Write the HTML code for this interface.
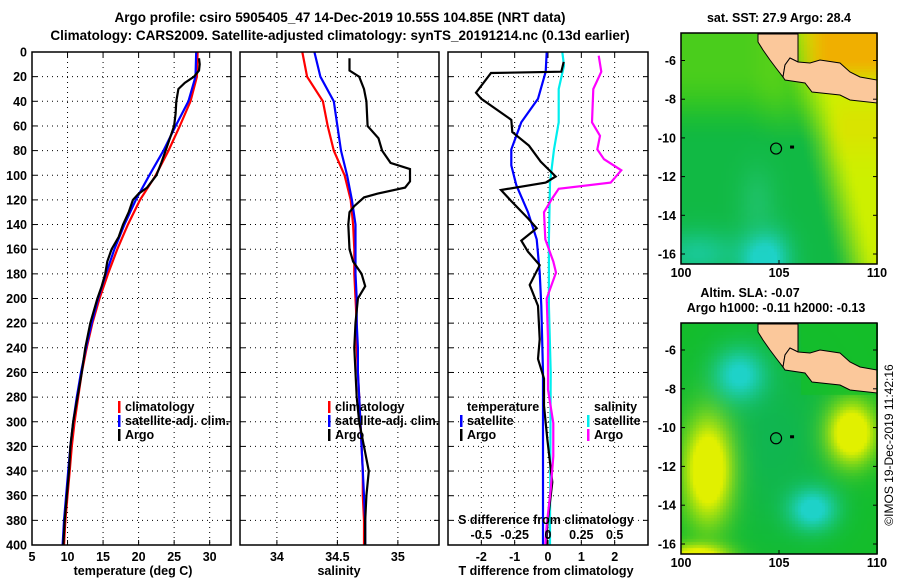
<!DOCTYPE html>
<html><head><meta charset="utf-8">
<style>
body{margin:0;background:#fff;}
#wrap{position:relative;width:900px;height:580px;overflow:hidden;font-family:"Liberation Sans",sans-serif;font-weight:bold;}
svg text{font-family:"Liberation Sans",sans-serif;font-weight:bold;font-size:12.5px;fill:#000;}
canvas{position:absolute;}
</style></head><body>
<div id="wrap">
<canvas id="map1" width="197" height="231" style="left:681px;top:33px;"></canvas>
<canvas id="map2" width="197" height="231" style="left:681px;top:323px;"></canvas>
<svg id="svg" width="900" height="580" style="position:absolute;left:0;top:0"></svg>
</div>
<script>
// ---- data ----
const tArgoDepth=[5,10,15,20,25,30,40,50,60,70,80,90,100,110,115,120,130,140,150,160,170,180,190,200,220,240,260,280,300,320,340,360,380,400];
const tArgo=[28.5,28.6,28.5,27.8,26.5,25.6,25.3,25.2,25.0,24.4,23.8,23.2,22.5,21.2,20.0,19.2,18.6,17.8,17.2,16.2,15.6,15.3,14.8,14.2,13.2,12.5,12.0,11.4,10.8,10.4,10.2,9.9,9.6,9.4];
const climDepth=[0,20,40,60,80,100,120,140,160,180,200,220,240,260,280,300,320,340,360,380,400];
const tClim=[28.3,28.2,27.3,25.8,24.2,22.4,20.2,18.5,17.0,15.7,14.5,13.5,12.7,12.0,11.5,11.0,10.6,10.3,10.0,9.7,9.5];
const tSat=[28.1,28.0,27.0,25.2,23.5,21.5,19.6,18.0,16.6,15.4,14.3,13.4,12.6,11.9,11.3,10.8,10.4,10.1,9.8,9.5,9.3];
const sArgoDepth=[5,15,20,30,40,60,70,80,90,95,105,110,115,118,125,130,140,160,170,180,190,200,220,240,260,280,300,320,340,360,380,400];
const sArgo=[34.6,34.6,34.68,34.72,34.74,34.75,34.84,34.87,34.94,35.1,35.1,35.06,34.83,34.72,34.64,34.6,34.59,34.6,34.63,34.7,34.73,34.67,34.65,34.64,34.65,34.66,34.68,34.72,34.76,34.74,34.73,34.73];
const sClim=[34.21,34.25,34.38,34.42,34.47,34.56,34.61,34.63,34.64,34.64,34.65,34.66,34.66,34.67,34.68,34.69,34.70,34.71,34.71,34.72,34.72];
const sSat=[34.31,34.36,34.47,34.50,34.53,34.58,34.62,34.65,34.65,34.65,34.66,34.66,34.67,34.67,34.68,34.69,34.70,34.71,34.72,34.73,34.73];
const dTDepth=[8,16,17,33,38,55,65,76,89,101,106,112,121,135,143,153,162,173,189,206,233,249,265,287,314,349,384,400];
const dTArgo=[0.47,0.4,-1.71,-2.16,-2.0,-1.1,-1.07,-0.57,-0.22,0.23,-0.07,-1.41,-1.1,-0.6,-0.34,-0.8,-0.6,-0.25,-0.55,-0.3,-0.25,-0.3,-0.12,-0.12,-0.02,0.13,-0.02,-0.05];
const dTSatDepth=[0,16,38,57,79,92,108,130,152,179,206,260,384,400];
const dTSat=[-0.04,-0.07,-0.3,-0.8,-1.1,-1.1,-0.95,-0.6,-0.34,-0.25,-0.2,-0.15,-0.15,-0.15];
const dSSatDepth=[0,11,30,57,79,106,152,206,260,384,400];
const dSSat=[0.107,0.12,0.08,0.08,0.045,0.015,0.007,0.007,0.02,0.015,0.015];
const dSArgoDepth=[3,16,30,57,68,79,87,96,106,111,119,130,152,170,179,200,233,274,301,328,355,384,400];
const dSArgo=[0.38,0.40,0.34,0.33,0.39,0.37,0.42,0.55,0.47,0.08,0.03,-0.03,-0.02,0.04,0.06,-0.01,0.0,0.0,0.04,0.04,0.02,-0.01,-0.02];
const depthTicks=[0,20,40,60,80,100,120,140,160,180,200,220,240,260,280,300,320,340,360,380,400];
const tTicks=[5,10,15,20,25,30];
const sTicks=[34,34.5,35];
const dTTicks=[-2,-1,0,1,2];
const dSTicks=[-0.5,-0.25,0,0.25,0.5];
const lonTicks=[100,105,110];
const latTicks=[-6,-8,-10,-12,-14,-16];

const NS='http://www.w3.org/2000/svg';
const svg=document.getElementById('svg');
function el(tag,attrs,parent){const e=document.createElementNS(NS,tag);for(const k in attrs)e.setAttribute(k,attrs[k]);(parent||svg).appendChild(e);return e;}
function txt(s,x,y,anchor,parent,size){const t=el('text',{x:x,y:y,'text-anchor':anchor||'middle'},parent);if(size)t.style.fontSize=size+'px';t.textContent=s;return t;}
const Y0=52,Y1=545;
const yD=d=>Y0+(Y1-Y0)*d/400;

function panel(name,x0,x1,dmin,dmax){
  const g=el('g',{});
  
  
  const xs=v=>x0+(x1-x0)*(v-dmin)/(dmax-dmin);
  return {g,xs,x0,x1};
}
function grid(p,ticks,xs){
  ticks.forEach(v=>{const x=xs(v);if(x>p.x0+1&&x<p.x1-1)el('line',{x1:x,x2:x,y1:Y0,y2:Y1,stroke:'#000','stroke-width':1,'stroke-dasharray':'1,4'},p.g);});
  depthTicks.forEach(d=>{const y=yD(d);if(d>0&&d<400)el('line',{x1:p.x0,x2:p.x1,y1:y,y2:y,stroke:'#000','stroke-width':1,'stroke-dasharray':'1,4'},p.g);
    el('line',{x1:p.x0,x2:p.x0+5,y1:y,y2:y,stroke:'#000'},p.g);el('line',{x1:p.x1-5,x2:p.x1,y1:y,y2:y,stroke:'#000'},p.g);});
  ticks.forEach(v=>{const x=xs(v);el('line',{x1:x,x2:x,y1:Y1-5,y2:Y1,stroke:'#000'},p.g);el('line',{x1:x,x2:x,y1:Y0,y2:Y0+5,stroke:'#000'},p.g);});
}
function frame(p){el('rect',{x:p.x0,y:Y0,width:p.x1-p.x0,height:Y1-Y0,fill:'none',stroke:'#000','stroke-width':1.5},p.g);}
function line(p,name,depths,vals,xs,color){
  const pts=depths.map((d,i)=>xs(vals[i]).toFixed(1)+','+yD(d).toFixed(1)).join(' ');
  const l=el('polyline',{points:pts,fill:'none',stroke:color,'stroke-width':2.2},p.g);
  
  
}
function legend(p,x,y,items){
  items.forEach((it,i)=>{const yy=y+i*14;
    el('rect',{x:x,y:yy-10,width:2.5,height:12,fill:it[1]},p.g);
    const t=txt(it[0],x+7,yy,'start',p.g);
    
    });
}

// titles
txt('Argo profile: csiro 5905405_47 14-Dec-2019 10.55S 104.85E (NRT data)',340,22,'middle',null,13.5);
txt('Climatology: CARS2009. Satellite-adjusted climatology: synTS_20191214.nc (0.13d earlier)',340,40,'middle',null,13.5);

// depth labels
depthTicks.forEach(d=>txt(String(d),27,yD(d)+4.5,'end'));

// panel 1
const p1=panel('temperature-panel',32,231,5,33);
grid(p1,tTicks,p1.xs);
line(p1,'temp-climatology',climDepth,tClim,p1.xs,'#f00');
line(p1,'temp-satellite',climDepth,tSat,p1.xs,'#00f');
line(p1,'temp-argo',tArgoDepth,tArgo,p1.xs,'#000');
frame(p1);
tTicks.forEach(v=>txt(String(v),p1.xs(v),561));
txt('temperature (deg C)',133,575);
legend(p1,118,411,[['climatology','#f00'],['satellite-adj. clim.','#00f'],['Argo','#000']]);

// panel 2
const p2=panel('salinity-panel',240,439,33.695,35.34);
grid(p2,sTicks,p2.xs);
line(p2,'sal-climatology',climDepth,sClim,p2.xs,'#f00');
line(p2,'sal-satellite',climDepth,sSat,p2.xs,'#00f');
line(p2,'sal-argo',sArgoDepth,sArgo,p2.xs,'#000');
frame(p2);
sTicks.forEach(v=>txt(String(v),p2.xs(v),561));
txt('salinity',339,575);
legend(p2,328,411,[['climatology','#f00'],['satellite-adj. clim.','#00f'],['Argo','#000']]);

// panel 3
const p3=panel('difference-panel',448,648,-3,3);
const xsS=v=>p3.xs(v*4);
grid(p3,dTTicks,p3.xs);
line(p3,'dT-satellite',dTSatDepth,dTSat,p3.xs,'#00f');
line(p3,'dS-satellite',dSSatDepth,dSSat,xsS,'#0ee');
line(p3,'dT-argo',dTDepth,dTArgo,p3.xs,'#000');
line(p3,'dS-argo',dSArgoDepth,dSArgo,xsS,'#f0f');
frame(p3);
dTTicks.forEach(v=>txt(String(v),p3.xs(v),561));
dSTicks.forEach(v=>txt(String(v),xsS(v),539));
txt('S difference from climatology',546,524);
txt('T difference from climatology',546,575);
txt('temperature',467,411,'start',p3.g);
legend(p3,460,425,[['satellite','#00f'],['Argo','#000']]);
txt('salinity',594,411,'start',p3.g);
legend(p3,587,425,[['satellite','#0ee'],['Argo','#f0f']]);

// maps
const MX0=681,MX1=877;
function mapAxes(name,top,bottom,lat6,lat16,title1,title2){
  const g=el('g',{});
  
  
  el('rect',{x:MX0,y:top,width:MX1-MX0,height:bottom-top,fill:'none',stroke:'#000','stroke-width':1.5},g);
  const ly=lat=>lat6+(lat16-lat6)*(lat+6)/(-10);
  latTicks.forEach(l=>{const y=ly(l);txt(String(l),676,y+4.5,'end',g);
    el('line',{x1:MX0,x2:MX0+4,y1:y,y2:y,stroke:'#000'},g);el('line',{x1:MX1-4,x2:MX1,y1:y,y2:y,stroke:'#000'},g);});
  lonTicks.forEach(l=>{const x=MX0+(MX1-MX0)*(l-100)/10;txt(String(l),x,bottom+13,'middle',g);
    el('line',{x1:x,x2:x,y1:bottom-4,y2:bottom,stroke:'#000'},g);});
  if(title2){txt(title1,750,297,'middle',g);txt(title2,776,312,'middle',g);}
  else txt(title1,779,22,'middle',g);
  const cx=MX0+(MX1-MX0)*0.485;
  el('circle',{cx:cx,cy:ly(-10.55),r:5.5,fill:'none',stroke:'#000','stroke-width':1.2},g);
  el('rect',{x:cx+14,y:ly(-10.55)-3,width:4,height:3,fill:'#000'},g);
  return ly;
}
// land outlines (absolute px for top map)
const sumatraOutline=[[758,34],[798,34],[798,62],[790,58],[785,65],[783,77],[776,68],[770,60],[763,50],[758,42]];
const javaOutline=[[798,62],[810,63],[820,60],[840,63],[850,72],[860,77],[877,80],[877,103],[850,100],[840,95],[812,92],[805,83],[785,80],[783,77],[785,65],[790,58]];
function drawLand(off){
  [sumatraOutline,javaOutline].forEach(poly=>{
    const pts=poly.map(p=>p[0]+','+(p[1]+off)).join(' ');
    const e=el('polygon',{points:pts,fill:'#fbc89b',stroke:'#000','stroke-width':1});
    
    
  });
}
function paint(id,fn){
  const c=document.getElementById(id),ctx=c.getContext('2d');
  for(let y=0;y<231;y+=3)for(let x=0;x<197;x+=3){ctx.fillStyle=fn(x/197,y/231);ctx.fillRect(x,y,3,3);}
}
function mix(a,b,t){t=Math.max(0,Math.min(1,t));return a.map((v,i)=>Math.round(v+(b[i]-v)*t));}
function rgb(a){return 'rgb('+a.join(',')+')';}
const G=[20,190,40],TEAL=[15,180,90],YG=[205,240,0],OR=[240,175,0],CY=[30,210,200],LG=[110,215,20];
const sm=(e0,e1,x)=>{const t=Math.max(0,Math.min(1,(x-e0)/(e1-e0)));return t*t*(3-2*t);};
const blob=(u,v,cx,cy,rx,ry)=>Math.exp(-((((u-cx)/rx)**2)+(((v-cy)/ry)**2)));
paint('map1',(u,v)=>{
  let c=mix(G,TEAL,0.55*sm(0.2,0.5,v));
  c=mix(c,LG,0.6*(1-sm(0.15,0.45,v))*(1-sm(0.3,0.55,u))+0.6*(1-sm(0.2,0.5,v))*sm(0.3,0.5,u));
  const d=u-(0.5+0.3*v);
  c=mix(c,YG,sm(-0.05,0.2,d));
  if(v<0.25)c=mix(c,OR,sm(0.55,0.75,u)*(1-sm(0.1,0.25,v)));
  c=mix(c,[230,215,0],0.5*sm(0.7,0.85,u)*Math.exp(-(((v-0.4)/0.12)**2)));
  c=mix(c,CY,1.2*blob(u,v,0.42,0.97,0.12,0.12)+0.6*blob(u,v,0.08,0.95,0.2,0.1));
  c=mix(c,[40,200,130],0.5*blob(u,v,0.38,0.72,0.1,0.15));
  return rgb(c);
});
paint('map2',(u,v)=>{
  let c=mix(G,TEAL,0.8*blob(u,v,0.45,0.5,0.4,0.45));
  c=mix(c,[225,240,0],1.5*blob(u,v,0.13,0.63,0.12,0.22));
  c=mix(c,[225,240,0],1.5*blob(u,v,0.86,0.47,0.12,0.13));
  c=mix(c,CY,1.1*blob(u,v,0.29,0.22,0.13,0.11));
  c=mix(c,CY,1.2*blob(u,v,0.66,0.8,0.12,0.09));
  c=mix(c,[230,240,0],1.3*blob(u,v,0.08,1.0,0.15,0.05));
  if(u>0.6&&v<0.3)c=mix(c,G,0.7);
  return rgb(c);
});
drawLand(0);drawLand(290);
mapAxes('sst-map-axes',33,264,60.5,254,'sat. SST: 27.9 Argo: 28.4');
mapAxes('sla-map-axes',323,554,350,544,'Altim. SLA: -0.07','Argo h1000: -0.11 h2000: -0.13');
const cr=txt('©IMOS 19-Dec-2019 11:42:16',0,0,'middle',null,12);
cr.setAttribute('transform','translate(893,445) rotate(-90)');
cr.style.fontWeight='normal';

</script>
</body></html>
